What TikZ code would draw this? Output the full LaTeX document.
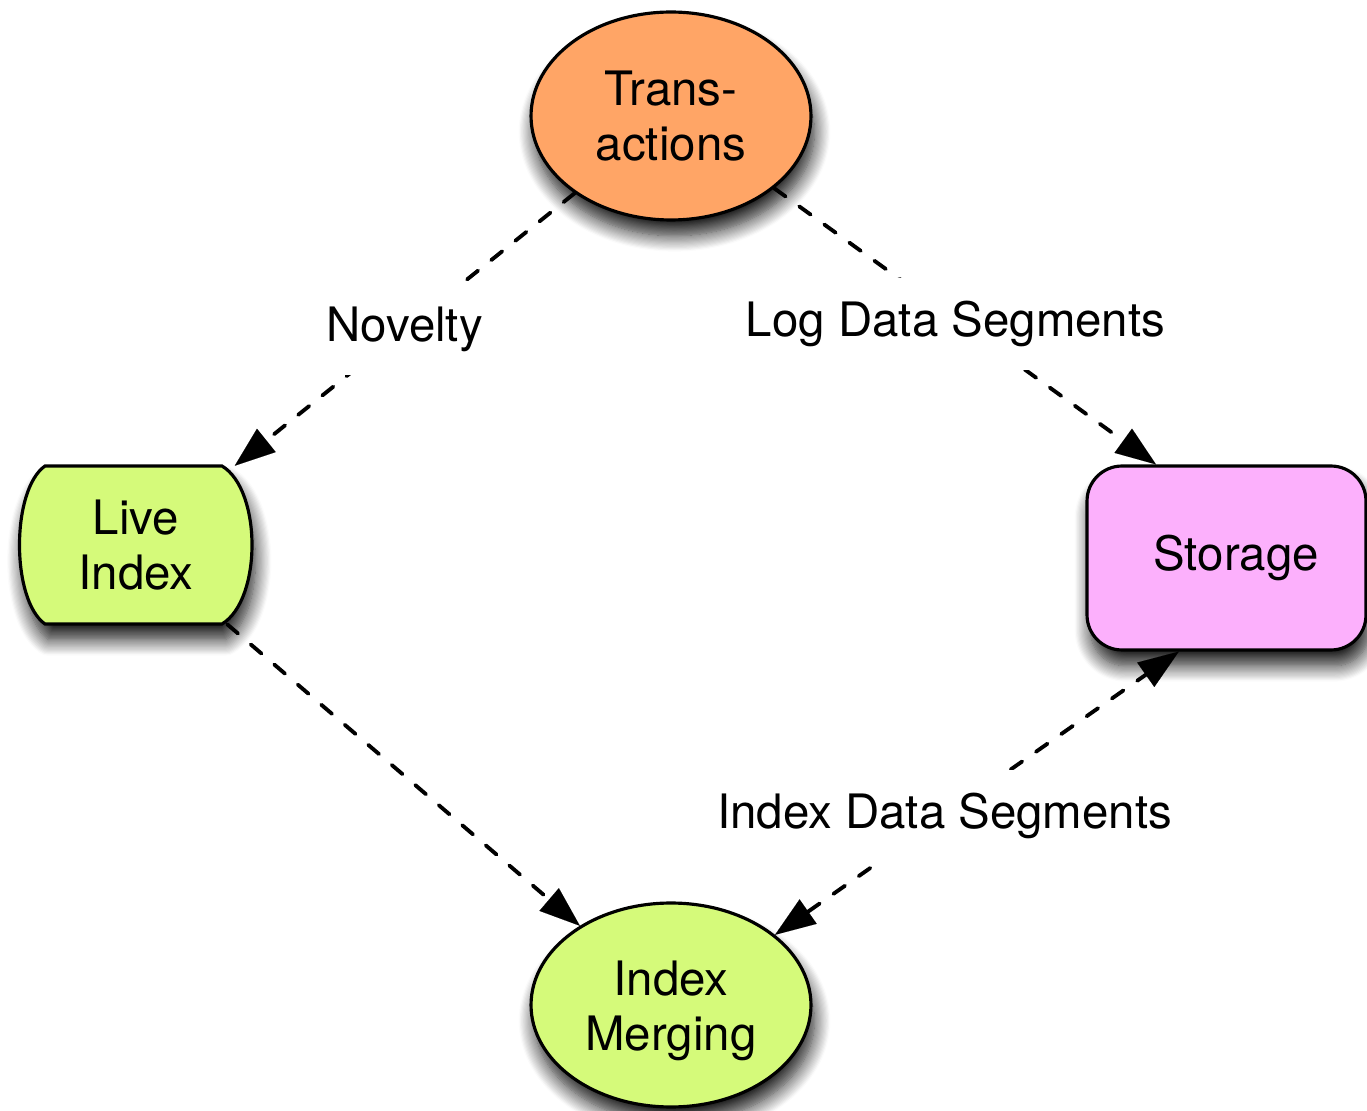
\documentclass[tikz,border=0pt]{standalone}
\usepackage{fontspec}
\setmainfont{TeX Gyre Heros}
\usetikzlibrary{shapes.geometric,arrows.meta,shadows.blur}
\definecolor{orangefill}{RGB}{255,165,102}
\definecolor{limefill}{RGB}{213,250,122}
\definecolor{pinkfill}{RGB}{252,176,252}
\tikzset{
  every node/.style={font=\fontsize{27}{31}\selectfont},
  myshadow/.style={blur shadow={shadow xshift=2pt,shadow yshift=-9pt,shadow blur steps=14,shadow blur radius=9pt,shadow opacity=90}},
  ellnode/.style={ellipse,draw,line width=1.8pt,minimum width=5.6cm,inner sep=0pt,align=center,myshadow},
  boxnode/.style={rectangle,rounded corners=0.7cm,draw,line width=1.8pt,fill=pinkfill,minimum width=5.58cm,minimum height=3.68cm,align=center,myshadow},
  tipA/.tip={Triangle[length=23pt,width=17pt,line width=0.01pt,fill=black]},
  conn/.style={line width=2.2pt,line cap=round,dash pattern=on 8pt off 9.6pt,-tipA},
  biconn/.style={line width=2.2pt,line cap=round,dash pattern=on 8pt off 9.6pt,tipA-tipA},
  lbl/.style={fill=white,inner xsep=2pt,inner ysep=13pt}
}
\begin{document}
\begin{tikzpicture}[x=0.02cm,y=-0.02cm]
\useasboundingbox (0,0) rectangle (1367,1111);
% Live Index custom shape
\path[draw,line width=1.8pt,fill=limefill,myshadow]
  (45,466) -- (222,466) .. controls (262,490) and (262,600) .. (222,624)
  -- (45,624) .. controls (11,600) and (11,490) .. (45,466) -- cycle;
\node[rectangle,minimum width=4.64cm,minimum height=3.16cm,inner sep=0pt,align=center] (li) at (136,545) {Live\\Index};
\node[ellnode,fill=orangefill,minimum height=4.16cm] (tr) at (671,116) {Trans-\\actions};
\node[ellnode,fill=limefill,minimum height=4.08cm] (im) at (671,1005) {\raisebox{-4pt}[\height][\depth]{\begin{tabular}{@{}c@{}}Index\\Merging\end{tabular}}};
\node[boxnode,text width=5.58cm,inner xsep=0pt,align=center] (st) at (1226.5,558) {\hspace*{11pt}Storage};
% connectors
\draw[conn] (tr) -- node[lbl,pos=0.5] {Novelty} (li);
\draw[conn] (tr.-35) -- node[lbl,pos=0.475,yshift=-2.5pt] {Log Data Segments} (st.127);
\draw[conn] (li.-41) -- (im.139.6);
\draw[biconn] (im.34) -- node[lbl,pos=0.42] {Index Data Segments} (st.243.2);
\end{tikzpicture}
\end{document}
